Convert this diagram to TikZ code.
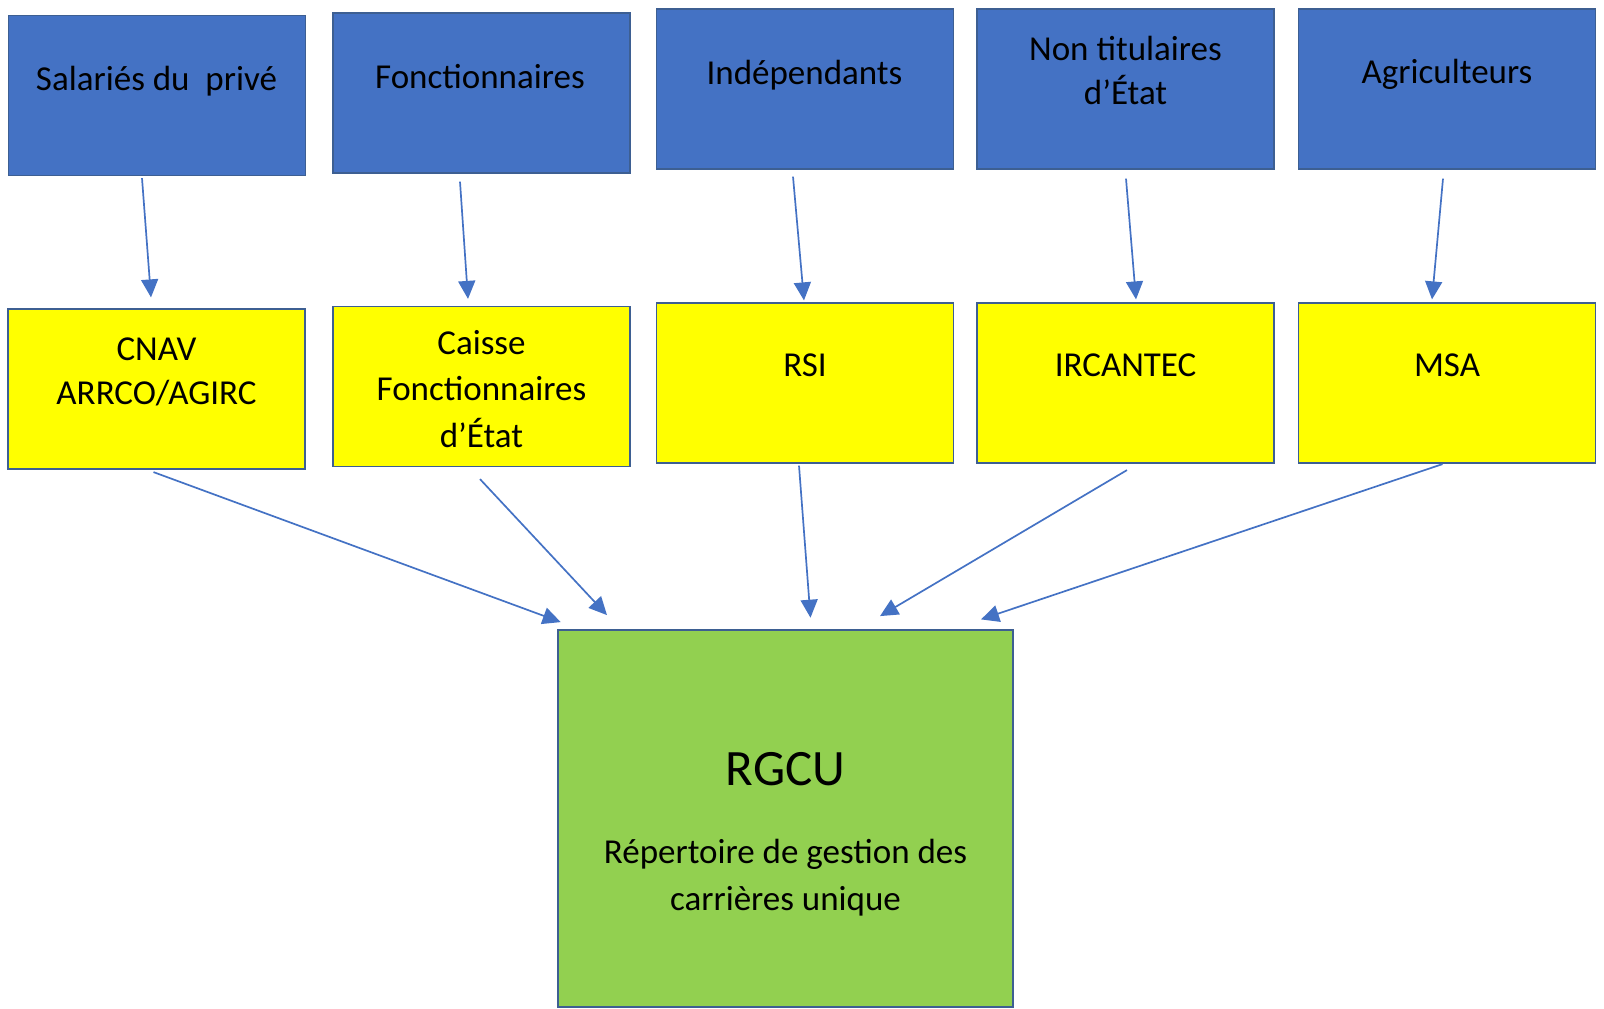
\documentclass[tikz,border=0pt]{standalone}
\usepackage{fontspec}
\setmainfont{Carlito}
\usepackage{tikz}
\usetikzlibrary{arrows.meta,positioning,calc}
\definecolor{officeblue}{HTML}{4472C4}
\definecolor{officegreen}{HTML}{92D050}
\definecolor{officeyellow}{HTML}{FFFF00}
\definecolor{boxline}{HTML}{3D5F92}
\tikzset{
srcbox/.style = {draw=boxline, fill=officeblue, rectangle, line width=1.2pt, minimum width=297pt, minimum height=160pt},
caisse/.style = {draw=boxline, fill=officeyellow, rectangle, line width=1.2pt, minimum width=297pt, minimum height=160pt},
rgcu/.style = {draw=boxline, fill=officegreen, rectangle, line width=1.2pt, minimum width=455pt, minimum height=377pt},
lbl/.style = {align=center, inner sep=0pt, anchor=base, font=\fontsize{35}{46.5}\selectfont},
tight/.style = {lbl, font=\fontsize{35}{44}\selectfont},
big/.style = {align=center, inner sep=0pt, anchor=base, font=\fontsize{51}{60}\selectfont},
link/.style = {draw=officeblue, line width=1.7pt, ->},
}

\begin{document}
\begin{tikzpicture}[x=1pt, y=-1pt, >={Triangle[length=18pt,width=17pt]}]
\useasboundingbox (0,0) rectangle (1604,1009);
\node [srcbox] (s1) at (157,95.5) {};
\node [srcbox] (s2) at (481.5,93) {};
\node [srcbox] (s3) at (805,89) {};
\node [srcbox] (s4) at (1125.5,89) {};
\node [srcbox] (s5) at (1447,89) {};
\node [caisse] (c1) at (156.5,389) {};
\node [caisse] (c2) at (481.5,386.5) {};
\node [caisse] (c3) at (805,383) {};
\node [caisse] (c4) at (1125.5,383) {};
\node [caisse] (c5) at (1447,383) {};
\node [rgcu] (g) at (785.5,818.5) {};

\node [lbl] (s1t) at ([xshift=-0.5pt,yshift=4.8pt]s1.center) {Salariés du\ \ privé};
\node [lbl] (s2t) at ([xshift=-1.5pt,yshift=5pt]s2.center) {Fonctionnaires};
\node [lbl] (s3t) at ([xshift=-0.5pt,yshift=5pt]s3.center) {Indépendants};
\node [tight] (s4t) at ([yshift=-15pt]s4.center) {Non titulaires\\d’État};
\node [lbl] (s5t) at ([yshift=6pt]s5.center) {Agriculteurs};
\node [tight] (c1t) at ([yshift=-15pt]c1.center) {CNAV\\ARRCO/AGIRC};
\node [lbl] (c2t) at ([yshift=-60.5pt]c2.center) {Caisse\\Fonctionnaires\\d’État};
\node [lbl] (c3t) at ([yshift=7pt]c3.center) {RSI};
\node [lbl] (c4t) at ([yshift=7pt]c4.center) {IRCANTEC};
\node [lbl] (c5t) at ([yshift=7pt]c5.center) {MSA};
\node [big] (gt) at ([yshift=33.5pt]g.center) {RGCU};
\node [lbl] (gd) at ([yshift=-91.5pt]g.center) {Répertoire de gestion des\\carrières unique};

\draw [link] ([xshift=-15pt,yshift=-2pt]s1.south) -- ([xshift=-5.5pt,yshift=11pt]c1.north);
\draw [link] ([xshift=-21.5pt,yshift=-8pt]s2.south) -- ([xshift=-13.5pt,yshift=7pt]c2.north);
\draw [link] ([xshift=-12pt,yshift=-7pt]s3.south) -- ([xshift=-1pt,yshift=2pt]c3.north);
\draw [link] ([xshift=0.5pt,yshift=-9pt]s4.south) -- ([xshift=10.5pt,yshift=3pt]c4.north);
\draw [link] ([xshift=-4pt,yshift=-9pt]s5.south) -- ([xshift=-15pt,yshift=3pt]c5.north);

\draw [link] ([xshift=-3pt,yshift=-2.5pt]c1.south) -- ([xshift=-224.8pt,yshift=7.3pt]g.north);
\draw [link] ([xshift=-1.5pt,yshift=-12pt]c2.south) -- ([xshift=-178.5pt,yshift=14.3pt]g.north);
\draw [link] ([xshift=-6pt,yshift=-2pt]c3.south) -- ([xshift=25pt,yshift=11.7pt]g.north);
\draw [link] ([xshift=1.5pt,yshift=-6.5pt]c4.south) -- ([xshift=94.5pt,yshift=13.3pt]g.north);
\draw [link] ([xshift=-4.5pt,yshift=-0.5pt]c5.south) -- ([xshift=195.5pt,yshift=10pt]g.north);
\end{tikzpicture}
\end{document}
